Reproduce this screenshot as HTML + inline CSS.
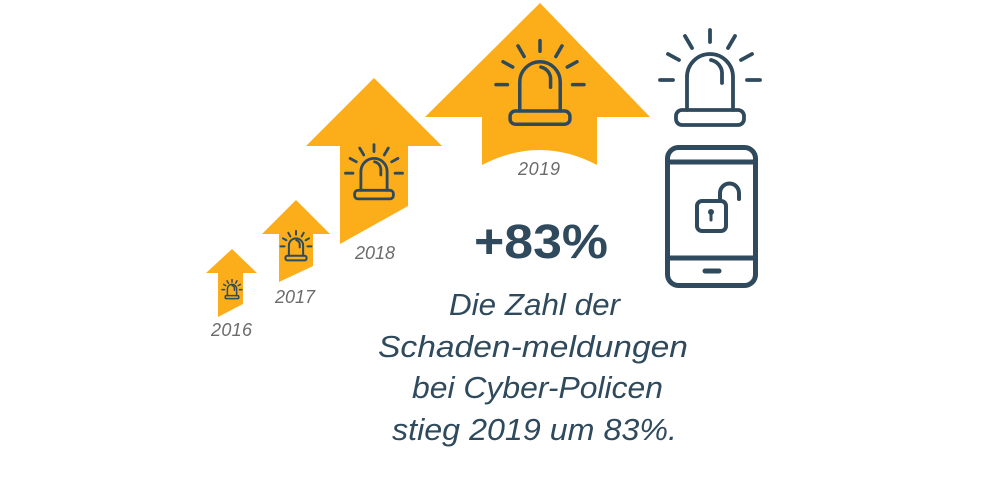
<!DOCTYPE html>
<html><head><meta charset="utf-8"><style>html,body{margin:0;padding:0;background:#fff}svg{display:block}#al *{vector-effect:non-scaling-stroke}</style></head>
<body>
<svg width="990" height="495" viewBox="0 0 990 495" xmlns="http://www.w3.org/2000/svg">
<defs>
<g id="al" fill="none" stroke="#2f4a5c" stroke-linecap="round">
<line x1="0" y1="-97" x2="0" y2="-85"/>
<line x1="-25" y1="-91" x2="-18" y2="-79"/>
<line x1="25" y1="-91" x2="18" y2="-79"/>
<line x1="-42" y1="-73" x2="-31" y2="-67"/>
<line x1="42" y1="-73" x2="31" y2="-67"/>
<line x1="-50" y1="-47" x2="-37" y2="-47"/>
<line x1="50" y1="-47" x2="37" y2="-47"/>
<path d="M-23,-17 V-50 A23,23 0 0 1 23,-50 V-17"/>
<path d="M1,-67 A14,14 0 0 1 12,-52 V-44"/>
<rect x="-34" y="-17" width="68" height="15" rx="6"/>
</g>
</defs>
<g fill="#fbae1a">
<polygon points="232,249 257,273 243,273 243,304 218,317 218,273 206,273"/>
<polygon points="296,200 330,234 313,234 313,266 279,282 279,234 262,234"/>
<polygon points="374,78 442,146 408,146 408,206 340,244 340,146 306,146"/>
<path d="M540,3 L650,117 L597,117 L597,165 Q540,135 482,165 L482,117 L425,117 Z"/>
</g>
<use href="#al" stroke-width="3.5" transform="translate(540,126) scale(0.88)"/>
<use href="#al" stroke-width="2.8" transform="translate(374,200) scale(0.57)"/>
<use href="#al" stroke-width="2" transform="translate(296,261) scale(0.31)"/>
<use href="#al" stroke-width="1.5" transform="translate(232,299) scale(0.2)"/>
<use href="#al" stroke-width="3.8" transform="translate(710,127)"/>
<g fill="none" stroke="#2f4a5c" stroke-width="5" stroke-linecap="round">
<rect x="667.5" y="147.5" width="88" height="138" rx="11"/>
<line x1="668" y1="162" x2="755" y2="162"/>
<line x1="668" y1="258" x2="755" y2="258"/>
<line x1="705" y1="271" x2="719" y2="271"/>
<rect x="697" y="201" width="29" height="30" rx="5" stroke-width="4"/>
<path d="M720,201 V193 A9.5,9.5 0 0 1 739,193 V199" stroke-width="4"/>
<line x1="711" y1="213" x2="711" y2="220" stroke-width="3"/>
</g>
<circle cx="711" cy="212" r="3" fill="#2f4a5c"/>
<g font-family="Liberation Sans, sans-serif" font-style="italic" fill="#6b6b6b" font-size="18">
<text x="518" y="175" textLength="42">2019</text>
<text x="355" y="259" textLength="40">2018</text>
<text x="275" y="303" textLength="40">2017</text>
<text x="211" y="336" textLength="41">2016</text>
</g>
<text x="474" y="258" font-family="Liberation Sans, sans-serif" font-weight="bold" font-size="48" fill="#2f4a5c" textLength="134" lengthAdjust="spacingAndGlyphs">+83%</text>
<g font-family="Liberation Sans, sans-serif" font-style="italic" fill="#2f4a5c" font-size="31">
<text x="449" y="315" textLength="171" lengthAdjust="spacingAndGlyphs">Die Zahl der</text>
<text x="378" y="357" textLength="310" lengthAdjust="spacingAndGlyphs">Schaden-meldungen</text>
<text x="412" y="398" textLength="251" lengthAdjust="spacingAndGlyphs">bei Cyber-Policen</text>
<text x="392" y="440" textLength="285" lengthAdjust="spacingAndGlyphs">stieg 2019 um 83%.</text>
</g>
</svg>
</body></html>
